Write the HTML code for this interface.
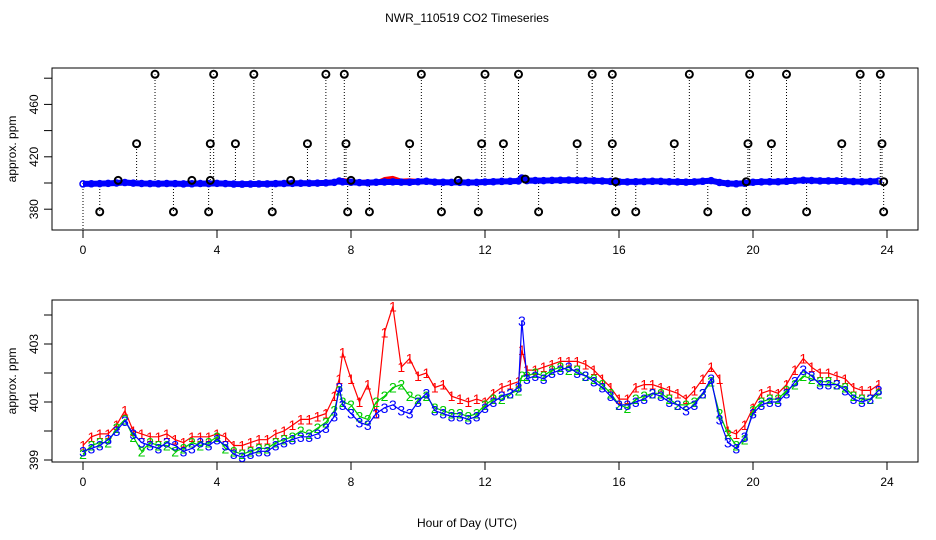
<!DOCTYPE html>
<html><head><meta charset="utf-8"><style>
html,body{margin:0;padding:0;background:#fff}
svg{display:block;font-family:"Liberation Sans",sans-serif}
</style></head><body>
<svg id="chart" width="936" height="540" viewBox="0 0 936 540">
<rect width="936" height="540" fill="#fff"/>
<text x="467" y="22" text-anchor="middle" font-size="12">NWR_110519  CO2 Timeseries</text>
<text x="467" y="527" text-anchor="middle" font-size="12">Hour of Day (UTC)</text>
<g id="topPanel"></g>
<g id="botPanel"></g>
</svg>
<script>
const hours = [0,0.25,0.5,0.75,1,1.25,1.5,1.75,2,2.25,2.5,2.75,3,3.25,3.5,3.75,4,4.25,4.5,4.75,5,5.25,5.5,5.75,6,6.25,6.5,6.75,7,7.25,7.5,7.65,7.75,8,8.25,8.5,8.75,9,9.25,9.5,9.75,10,10.25,10.5,10.75,11,11.25,11.5,11.75,12,12.25,12.5,12.75,13,13.1,13.25,13.5,13.75,14,14.25,14.5,14.75,15,15.25,15.5,15.75,16,16.25,16.5,16.75,17,17.25,17.5,17.75,18,18.25,18.5,18.75,19,19.25,19.5,19.75,20,20.25,20.5,20.75,21,21.25,21.5,21.75,22,22.25,22.5,22.75,23,23.25,23.5,23.75];
const series3 = [399.3,399.4,399.5,399.7,400.0,400.35,399.9,399.6,399.5,399.4,399.6,399.5,399.3,399.4,399.6,399.5,399.7,399.5,399.2,399.1,399.2,399.3,399.3,399.5,399.6,399.7,399.8,399.8,399.9,400.1,400.5,401.5,400.9,400.6,400.3,400.2,400.6,400.8,400.9,400.7,400.6,401.0,401.3,400.7,400.6,400.5,400.5,400.4,400.5,400.8,401.0,401.2,401.3,401.5,403.8,401.8,401.9,401.8,402.0,402.1,402.2,402.0,401.9,401.7,401.5,401.2,400.9,400.9,401.0,401.1,401.3,401.2,401.0,400.9,400.7,400.9,401.3,401.8,400.4,399.6,399.4,399.8,400.6,400.9,401.0,401.0,401.3,401.7,402.1,401.9,401.6,401.6,401.6,401.4,401.1,401.0,401.1,401.4];
const series2 = [399.2,399.5,399.6,399.6,400.1,400.4,399.8,399.3,399.6,399.5,399.5,399.3,399.4,399.6,399.5,399.6,399.8,399.4,399.3,399.2,399.3,399.4,399.4,399.6,399.7,399.8,400.0,399.9,400.1,400.3,400.7,401.4,401.0,400.9,400.5,400.4,401.0,401.2,401.5,401.6,401.2,401.1,401.2,400.8,400.7,400.6,400.6,400.5,400.6,400.9,401.1,401.1,401.3,401.4,401.9,401.9,402.0,401.9,402.1,402.2,402.1,402.1,401.9,401.8,401.6,401.3,400.9,400.8,401.1,401.2,401.3,401.3,401.1,400.9,400.9,401.0,401.3,401.7,400.6,399.9,399.5,399.7,400.7,401.0,401.1,401.1,401.4,401.6,401.9,401.8,401.7,401.7,401.6,401.5,401.2,401.1,401.1,401.3];
const series1 = [399.5,399.8,399.9,399.9,400.2,400.7,400.0,399.9,399.8,399.8,399.9,399.7,399.6,399.8,399.8,399.8,399.9,399.8,399.5,399.5,399.6,399.7,399.7,399.9,400.0,400.2,400.4,400.4,400.5,400.6,401.2,401.8,402.7,401.8,401.0,401.6,400.6,403.4,404.3,402.2,402.5,401.9,402.0,401.5,401.6,401.2,401.1,401.0,401.1,401.0,401.3,401.5,401.6,401.7,402.8,402.1,402.1,402.2,402.3,402.4,402.4,402.4,402.3,402.1,401.8,401.5,401.1,401.1,401.5,401.6,401.6,401.5,401.4,401.3,401.1,401.4,401.8,402.2,401.8,400.0,399.9,400.2,400.8,401.3,401.4,401.3,401.6,402.1,402.5,402.2,402.0,402.0,401.9,401.8,401.5,401.4,401.4,401.6];
const outlierHours = [2.15,3.9,5.1,7.25,7.8,10.1,12.0,13.0,15.2,15.8,18.1,19.9,21.0,23.2,23.8,1.6,3.8,4.55,6.7,7.85,9.75,11.9,12.55,14.75,15.8,17.65,19.85,20.55,22.65,23.85,0.5,2.7,3.75,5.65,7.9,8.55,10.7,11.8,13.6,15.9,16.5,18.65,19.8,21.6,23.9,1.05,3.25,3.8,6.2,8.0,11.2,13.2,15.9,19.8,23.9];
const outlierValues = [483,483,483,483,483,483,483,483,483,483,483,483,483,483,483,430,430,430,430,430,430,430,430,430,430,430,430,430,430,430,378,378,378,378,378,378,378,378,378,378,378,378,378,378,378,402,402,402,402,402,402,403,401,401,401];
const xTicks = [0,4,8,12,16,20,24];
const topYTicks = [380,400,420,440,460,480];
const topYLabels = [380,420,460];
const botYTicks = [399,400,401,402,403,404];
const botYLabels = [399,401,403];

const NS = "http://www.w3.org/2000/svg";
const X0 = 52, X1 = 918;
function xs(h){ return 83 + h*33.5; }
function yTop(v){ return 183 - (v-400)*1.31; }
function yBot(v){ return 460 - (v-399)*29; }
function mk(parent, tag, attrs){
  const e = document.createElementNS(NS, tag);
  for (const k in attrs) e.setAttribute(k, attrs[k]);
  parent.appendChild(e); return e;
}
function axes(g, y0, y1, ys, ticks, labels, name){
  const box = mk(g,'rect',{x:X0,y:y0,width:X1-X0,height:y1-y0,fill:'none',stroke:'#000'});
  
  
  const xa = mk(g,'g',{});
  
  
  mk(xa,'line',{x1:xs(0),x2:xs(24),y1:y1,y2:y1,stroke:'#000'});
  xTicks.forEach(t=>{
    mk(xa,'line',{x1:xs(t),x2:xs(t),y1:y1,y2:y1+8,stroke:'#000'});
    const tx = mk(xa,'text',{x:xs(t),y:y1+24,'text-anchor':'middle','font-size':12});
    tx.textContent = t;
    
    
  });
  const ya = mk(g,'g',{});
  
  
  mk(ya,'line',{x1:X0,x2:X0,y1:ys(ticks[0]),y2:ys(ticks[ticks.length-1]),stroke:'#000'});
  ticks.forEach(t=>{ mk(ya,'line',{x1:X0,x2:X0-8,y1:ys(t),y2:ys(t),stroke:'#000'}); });
  labels.forEach(t=>{
    const tx = mk(ya,'text',{x:0,y:0,'text-anchor':'middle','font-size':12,transform:`translate(${X0-14},${ys(t)}) rotate(-90)`});
    tx.textContent = t;
    
    
  });
  const yt = mk(g,'text',{x:0,y:0,'text-anchor':'middle','font-size':12,transform:`translate(16,${(y0+y1)/2}) rotate(-90)`});
  yt.textContent = 'approx. ppm';
  
  
}
function pts(arr, ys){ return arr.map((v,i)=>xs(hours[i])+','+ys(v)).join(' '); }

const topG = document.getElementById('topPanel');
axes(topG, 68, 230, yTop, topYTicks, topYLabels, 'top');
const og = mk(topG,'g',{});


outlierHours.forEach((h,i)=>{
  mk(og,'line',{x1:xs(h),x2:xs(h),y1:yTop(400),y2:yTop(outlierValues[i]),stroke:'#000','stroke-dasharray':'1,2','stroke-width':1});
});
mk(og,'line',{x1:xs(0),x2:xs(0),y1:yTop(400),y2:230,stroke:'#000','stroke-dasharray':'1,2'});
const colors = ['#ff0000','#00cc00','#0000ff'];
const allSeries = [series1, series2, series3];
allSeries.forEach((s,k)=>{
  const p = mk(topG,'polyline',{points:pts(s,yTop),fill:'none',stroke:colors[k],'stroke-width':k==2?6:3,'stroke-linejoin':'round'});
  
  
});
const tm = mk(topG,'g',{});


series3.forEach((v,i)=>{ mk(tm,'circle',{cx:xs(hours[i]),cy:yTop(v),r:3,fill:'none',stroke:'#0000ff','stroke-width':1.5}); });
const om = mk(topG,'g',{});


outlierHours.forEach((h,i)=>{
  const c = mk(om,'circle',{cx:xs(h),cy:yTop(outlierValues[i]),r:3.5,fill:'none',stroke:'#000','stroke-width':2});
  
  
});

const botG = document.getElementById('botPanel');
axes(botG, 300, 462, yBot, botYTicks, botYLabels, 'bottom');
allSeries.forEach((s,k)=>{
  const g = mk(botG,'g',{});
  
  
  mk(g,'polyline',{points:pts(s,yBot),fill:'none',stroke:colors[k],'stroke-width':1.2});
  s.forEach((v,i)=>{
    const t = mk(g,'text',{x:xs(hours[i]),y:yBot(v)+5,'text-anchor':'middle','font-size':14,fill:colors[k]});
    t.textContent = String(k+1);
    
    
  });
});
</script>
</body></html>
